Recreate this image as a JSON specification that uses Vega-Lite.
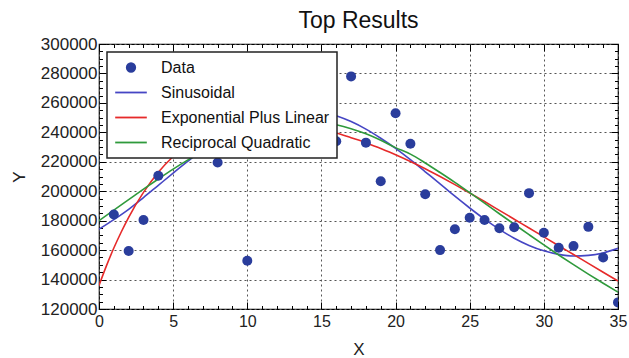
{
  "$schema": "https://vega.github.io/schema/vega-lite/v6.json",
  "autosize": "none",
  "width": 519,
  "height": 265,
  "padding": {"left": 99, "top": 44, "right": 11, "bottom": 49},
  "background": "white",
  "config": {
    "font": "Liberation Sans",
    "view": {"stroke": "#000", "strokeWidth": 1.2},
    "axis": {"labelFont": "Liberation Sans", "titleFont": "Liberation Sans", "labelColor": "#222", "titleColor": "#222", "titleFontWeight": "normal", "tickColor": "#000"}
  },
  "title": {"text": "Top Results", "fontSize": 23, "fontWeight": "normal", "font": "Liberation Sans", "color": "#111", "anchor": "middle", "offset": 2},
  "datasets": {
    "points": [
      {"x": 1, "y": 184200, "series": "Data"},
      {"x": 2, "y": 159400, "series": "Data"},
      {"x": 3, "y": 180500, "series": "Data"},
      {"x": 4, "y": 210500, "series": "Data"},
      {"x": 8, "y": 219500, "series": "Data"},
      {"x": 10, "y": 152800, "series": "Data"},
      {"x": 16, "y": 234000, "series": "Data"},
      {"x": 17, "y": 278000, "series": "Data"},
      {"x": 18, "y": 233000, "series": "Data"},
      {"x": 19, "y": 206800, "series": "Data"},
      {"x": 20, "y": 253000, "series": "Data"},
      {"x": 21, "y": 232200, "series": "Data"},
      {"x": 22, "y": 198000, "series": "Data"},
      {"x": 23, "y": 160000, "series": "Data"},
      {"x": 24, "y": 174200, "series": "Data"},
      {"x": 25, "y": 182000, "series": "Data"},
      {"x": 26, "y": 180400, "series": "Data"},
      {"x": 27, "y": 174800, "series": "Data"},
      {"x": 28, "y": 175500, "series": "Data"},
      {"x": 29, "y": 198700, "series": "Data"},
      {"x": 30, "y": 171800, "series": "Data"},
      {"x": 31, "y": 161600, "series": "Data"},
      {"x": 32, "y": 162800, "series": "Data"},
      {"x": 33, "y": 175800, "series": "Data"},
      {"x": 34, "y": 155000, "series": "Data"},
      {"x": 35, "y": 124500, "series": "Data"}
    ],
    "curves": [
      {"x": 0, "y": 174200, "series": "Sinusoidal"},
      {"x": 1, "y": 180700, "series": "Sinusoidal"},
      {"x": 2, "y": 187700, "series": "Sinusoidal"},
      {"x": 3, "y": 195700, "series": "Sinusoidal"},
      {"x": 4, "y": 204000, "series": "Sinusoidal"},
      {"x": 5, "y": 212300, "series": "Sinusoidal"},
      {"x": 6, "y": 220400, "series": "Sinusoidal"},
      {"x": 7, "y": 228200, "series": "Sinusoidal"},
      {"x": 8, "y": 235200, "series": "Sinusoidal"},
      {"x": 9, "y": 241500, "series": "Sinusoidal"},
      {"x": 10, "y": 246800, "series": "Sinusoidal"},
      {"x": 11, "y": 250900, "series": "Sinusoidal"},
      {"x": 12, "y": 253700, "series": "Sinusoidal"},
      {"x": 13, "y": 255200, "series": "Sinusoidal"},
      {"x": 14, "y": 255200, "series": "Sinusoidal"},
      {"x": 15, "y": 254000, "series": "Sinusoidal"},
      {"x": 16, "y": 251300, "series": "Sinusoidal"},
      {"x": 17, "y": 247300, "series": "Sinusoidal"},
      {"x": 18, "y": 242200, "series": "Sinusoidal"},
      {"x": 19, "y": 236000, "series": "Sinusoidal"},
      {"x": 20, "y": 229100, "series": "Sinusoidal"},
      {"x": 21, "y": 221400, "series": "Sinusoidal"},
      {"x": 22, "y": 213200, "series": "Sinusoidal"},
      {"x": 23, "y": 205000, "series": "Sinusoidal"},
      {"x": 24, "y": 196600, "series": "Sinusoidal"},
      {"x": 25, "y": 188600, "series": "Sinusoidal"},
      {"x": 26, "y": 181000, "series": "Sinusoidal"},
      {"x": 27, "y": 174100, "series": "Sinusoidal"},
      {"x": 28, "y": 168100, "series": "Sinusoidal"},
      {"x": 29, "y": 163200, "series": "Sinusoidal"},
      {"x": 30, "y": 159500, "series": "Sinusoidal"},
      {"x": 31, "y": 157100, "series": "Sinusoidal"},
      {"x": 32, "y": 156000, "series": "Sinusoidal"},
      {"x": 33, "y": 156400, "series": "Sinusoidal"},
      {"x": 34, "y": 158100, "series": "Sinusoidal"},
      {"x": 35, "y": 161200, "series": "Sinusoidal"},
      {"x": 0, "y": 136000, "series": "Exponential Plus Linear"},
      {"x": 0.5, "y": 149300, "series": "Exponential Plus Linear"},
      {"x": 1, "y": 161400, "series": "Exponential Plus Linear"},
      {"x": 1.5, "y": 172300, "series": "Exponential Plus Linear"},
      {"x": 2, "y": 182300, "series": "Exponential Plus Linear"},
      {"x": 3, "y": 199200, "series": "Exponential Plus Linear"},
      {"x": 4, "y": 212900, "series": "Exponential Plus Linear"},
      {"x": 5, "y": 223600, "series": "Exponential Plus Linear"},
      {"x": 6, "y": 232000, "series": "Exponential Plus Linear"},
      {"x": 7, "y": 238300, "series": "Exponential Plus Linear"},
      {"x": 8, "y": 242700, "series": "Exponential Plus Linear"},
      {"x": 9, "y": 245700, "series": "Exponential Plus Linear"},
      {"x": 10, "y": 247300, "series": "Exponential Plus Linear"},
      {"x": 11, "y": 247800, "series": "Exponential Plus Linear"},
      {"x": 12, "y": 247300, "series": "Exponential Plus Linear"},
      {"x": 13, "y": 246100, "series": "Exponential Plus Linear"},
      {"x": 14, "y": 244100, "series": "Exponential Plus Linear"},
      {"x": 15, "y": 241800, "series": "Exponential Plus Linear"},
      {"x": 16, "y": 239500, "series": "Exponential Plus Linear"},
      {"x": 17, "y": 236300, "series": "Exponential Plus Linear"},
      {"x": 18, "y": 233000, "series": "Exponential Plus Linear"},
      {"x": 19, "y": 229000, "series": "Exponential Plus Linear"},
      {"x": 20, "y": 224800, "series": "Exponential Plus Linear"},
      {"x": 21, "y": 220200, "series": "Exponential Plus Linear"},
      {"x": 22, "y": 215300, "series": "Exponential Plus Linear"},
      {"x": 23, "y": 210000, "series": "Exponential Plus Linear"},
      {"x": 24, "y": 204500, "series": "Exponential Plus Linear"},
      {"x": 25, "y": 198800, "series": "Exponential Plus Linear"},
      {"x": 26, "y": 193000, "series": "Exponential Plus Linear"},
      {"x": 27, "y": 187000, "series": "Exponential Plus Linear"},
      {"x": 28, "y": 181000, "series": "Exponential Plus Linear"},
      {"x": 29, "y": 175000, "series": "Exponential Plus Linear"},
      {"x": 30, "y": 169000, "series": "Exponential Plus Linear"},
      {"x": 31, "y": 163000, "series": "Exponential Plus Linear"},
      {"x": 32, "y": 157000, "series": "Exponential Plus Linear"},
      {"x": 33, "y": 151000, "series": "Exponential Plus Linear"},
      {"x": 34, "y": 145000, "series": "Exponential Plus Linear"},
      {"x": 35, "y": 139000, "series": "Exponential Plus Linear"},
      {"x": 0, "y": 180000, "series": "Reciprocal Quadratic"},
      {"x": 1, "y": 187200, "series": "Reciprocal Quadratic"},
      {"x": 2, "y": 194300, "series": "Reciprocal Quadratic"},
      {"x": 3, "y": 201400, "series": "Reciprocal Quadratic"},
      {"x": 4, "y": 208300, "series": "Reciprocal Quadratic"},
      {"x": 5, "y": 215000, "series": "Reciprocal Quadratic"},
      {"x": 6, "y": 221300, "series": "Reciprocal Quadratic"},
      {"x": 7, "y": 227100, "series": "Reciprocal Quadratic"},
      {"x": 8, "y": 232500, "series": "Reciprocal Quadratic"},
      {"x": 9, "y": 237100, "series": "Reciprocal Quadratic"},
      {"x": 10, "y": 241100, "series": "Reciprocal Quadratic"},
      {"x": 11, "y": 244100, "series": "Reciprocal Quadratic"},
      {"x": 12, "y": 246300, "series": "Reciprocal Quadratic"},
      {"x": 13, "y": 247500, "series": "Reciprocal Quadratic"},
      {"x": 14, "y": 247700, "series": "Reciprocal Quadratic"},
      {"x": 15, "y": 247000, "series": "Reciprocal Quadratic"},
      {"x": 16, "y": 245200, "series": "Reciprocal Quadratic"},
      {"x": 17, "y": 242500, "series": "Reciprocal Quadratic"},
      {"x": 18, "y": 239000, "series": "Reciprocal Quadratic"},
      {"x": 19, "y": 234600, "series": "Reciprocal Quadratic"},
      {"x": 20, "y": 229600, "series": "Reciprocal Quadratic"},
      {"x": 21, "y": 225200, "series": "Reciprocal Quadratic"},
      {"x": 22, "y": 219200, "series": "Reciprocal Quadratic"},
      {"x": 23, "y": 212700, "series": "Reciprocal Quadratic"},
      {"x": 24, "y": 206000, "series": "Reciprocal Quadratic"},
      {"x": 25, "y": 199000, "series": "Reciprocal Quadratic"},
      {"x": 26, "y": 191900, "series": "Reciprocal Quadratic"},
      {"x": 27, "y": 184700, "series": "Reciprocal Quadratic"},
      {"x": 28, "y": 177600, "series": "Reciprocal Quadratic"},
      {"x": 29, "y": 170500, "series": "Reciprocal Quadratic"},
      {"x": 30, "y": 163500, "series": "Reciprocal Quadratic"},
      {"x": 31, "y": 156700, "series": "Reciprocal Quadratic"},
      {"x": 32, "y": 150100, "series": "Reciprocal Quadratic"},
      {"x": 33, "y": 143700, "series": "Reciprocal Quadratic"},
      {"x": 34, "y": 137500, "series": "Reciprocal Quadratic"},
      {"x": 35, "y": 131500, "series": "Reciprocal Quadratic"}
    ]
  },
  "resolve": {"axis": {"x": "independent", "y": "independent"}},
  "layer": [
    {
      "data": {"name": "curves"},
      "mark": {"type": "line", "interpolate": "monotone", "strokeWidth": 1.6, "clip": true},
      "encoding": {
        "x": {
          "field": "x", "type": "quantitative",
          "scale": {"domain": [0, 35], "nice": false, "zero": false},
          "axis": {
            "orient": "bottom", "title": "X", "titleFontSize": 17, "titlePadding": 9,
            "values": [0,1,2,3,4,5,6,7,8,9,10,11,12,13,14,15,16,17,18,19,20,21,22,23,24,25,26,27,28,29,30,31,32,33,34,35],
            "labelExpr": "datum.value % 5 === 0 ? datum.label : ''",
            "labelOverlap": false, "labelFlush": false, "labelFontSize": 16, "labelPadding": 11,
            "tickSize": {"condition": {"test": "datum.value % 5 === 0", "value": -7}, "value": -3.5},
            "tickWidth": 1,
            "grid": true, "gridColor": "#555", "gridDash": [2, 3], "gridWidth": 1,
            "gridOpacity": {"condition": {"test": "datum.value % 5 === 0", "value": 1}, "value": 0},
            "domain": false
          }
        },
        "y": {
          "field": "y", "type": "quantitative",
          "scale": {"domain": [120000, 300000], "nice": false, "zero": false},
          "axis": {
            "orient": "left", "title": "Y", "titleFontSize": 17, "titlePadding": 12,
            "values": [120000,125000,130000,135000,140000,145000,150000,155000,160000,165000,170000,175000,180000,185000,190000,195000,200000,205000,210000,215000,220000,225000,230000,235000,240000,245000,250000,255000,260000,265000,270000,275000,280000,285000,290000,295000,300000],
            "format": "d",
            "labelExpr": "datum.value % 20000 === 0 ? datum.label : ''",
            "labelOverlap": false, "labelFlush": false, "labelFontSize": 17, "labelPadding": 9,
            "tickSize": {"condition": {"test": "datum.value % 20000 === 0", "value": -7}, "value": -3.5},
            "tickWidth": 1,
            "grid": true, "gridColor": "#555", "gridDash": [2, 3], "gridWidth": 1,
            "gridOpacity": {"condition": {"test": "datum.value % 20000 === 0", "value": 1}, "value": 0},
            "domain": false
          }
        },
        "color": {
          "field": "series", "type": "nominal",
          "scale": {"domain": ["Data", "Sinusoidal", "Exponential Plus Linear", "Reciprocal Quadratic"], "range": ["#2a3d9c", "#4646c4", "#e62a2a", "#2f9a3c"]},
          "legend": {
            "title": null, "orient": "none", "legendX": 8, "legendY": 8,
            "fillColor": "white", "strokeColor": "#222",
            "padding": 7, "rowPadding": 8, "clipHeight": 17,
            "labelFontSize": 16, "labelFont": "Liberation Sans", "labelColor": "#111", "labelOffset": 13, "labelLimit": 400,
            "symbolSize": 1000, "symbolStrokeWidth": 1.8,
            "encode": {
              "legend": {"update": {"strokeWidth": {"value": 1.5}}},
              "symbols": {"update": {
                "fill": {"scale": "color", "field": "value"},
                "stroke": {"scale": "color", "field": "value"},
                "size": {"signal": "datum.value === 'Data' ? 72 : 1000"},
                "opacity": {"value": 1}
              }}
            }
          }
        }
      }
    },
    {
      "data": {"name": "points"},
      "mark": {"type": "point", "filled": true, "size": 100, "opacity": 1, "clip": true},
      "encoding": {
        "x": {
          "field": "x", "type": "quantitative",
          "scale": {"domain": [0, 35], "nice": false, "zero": false},
          "axis": {
            "orient": "top", "title": null, "labels": false, "grid": false, "domain": false,
            "values": [0,1,2,3,4,5,6,7,8,9,10,11,12,13,14,15,16,17,18,19,20,21,22,23,24,25,26,27,28,29,30,31,32,33,34,35],
            "tickSize": {"condition": {"test": "datum.value % 5 === 0", "value": -7}, "value": -3.5},
            "tickWidth": 1
          }
        },
        "y": {
          "field": "y", "type": "quantitative",
          "scale": {"domain": [120000, 300000], "nice": false, "zero": false},
          "axis": {
            "orient": "right", "title": null, "labels": false, "grid": false, "domain": false,
            "values": [120000,125000,130000,135000,140000,145000,150000,155000,160000,165000,170000,175000,180000,185000,190000,195000,200000,205000,210000,215000,220000,225000,230000,235000,240000,245000,250000,255000,260000,265000,270000,275000,280000,285000,290000,295000,300000],
            "tickSize": {"condition": {"test": "datum.value % 20000 === 0", "value": -7}, "value": -3.5},
            "tickWidth": 1
          }
        },
        "color": {
          "field": "series", "type": "nominal",
          "scale": {"domain": ["Data", "Sinusoidal", "Exponential Plus Linear", "Reciprocal Quadratic"], "range": ["#2a3d9c", "#4646c4", "#e62a2a", "#2f9a3c"]},
          "legend": {
            "title": null, "orient": "none", "legendX": 8, "legendY": 8,
            "fillColor": "white", "strokeColor": "#222",
            "padding": 7, "rowPadding": 8, "clipHeight": 17,
            "labelFontSize": 16, "labelFont": "Liberation Sans", "labelColor": "#111", "labelOffset": 13, "labelLimit": 400,
            "symbolSize": 1000, "symbolStrokeWidth": 1.8,
            "encode": {
              "legend": {"update": {"strokeWidth": {"value": 1.5}}},
              "symbols": {"update": {
                "fill": {"scale": "color", "field": "value"},
                "stroke": {"scale": "color", "field": "value"},
                "size": {"signal": "datum.value === 'Data' ? 72 : 1000"},
                "opacity": {"value": 1}
              }}
            }
          }
        },
        "shape": {
          "field": "series", "type": "nominal",
          "scale": {"domain": ["Data", "Sinusoidal", "Exponential Plus Linear", "Reciprocal Quadratic"], "range": ["circle", "stroke", "stroke", "stroke"]},
          "legend": {
            "title": null, "orient": "none", "legendX": 8, "legendY": 8,
            "fillColor": "white", "strokeColor": "#222",
            "padding": 7, "rowPadding": 8, "clipHeight": 17,
            "labelFontSize": 16, "labelFont": "Liberation Sans", "labelColor": "#111", "labelOffset": 13, "labelLimit": 400,
            "symbolSize": 1000, "symbolStrokeWidth": 1.8,
            "encode": {
              "legend": {"update": {"strokeWidth": {"value": 1.5}}},
              "symbols": {"update": {
                "fill": {"scale": "color", "field": "value"},
                "stroke": {"scale": "color", "field": "value"},
                "size": {"signal": "datum.value === 'Data' ? 72 : 1000"},
                "opacity": {"value": 1}
              }}
            }
          }
        }
      }
    }
  ]
}
